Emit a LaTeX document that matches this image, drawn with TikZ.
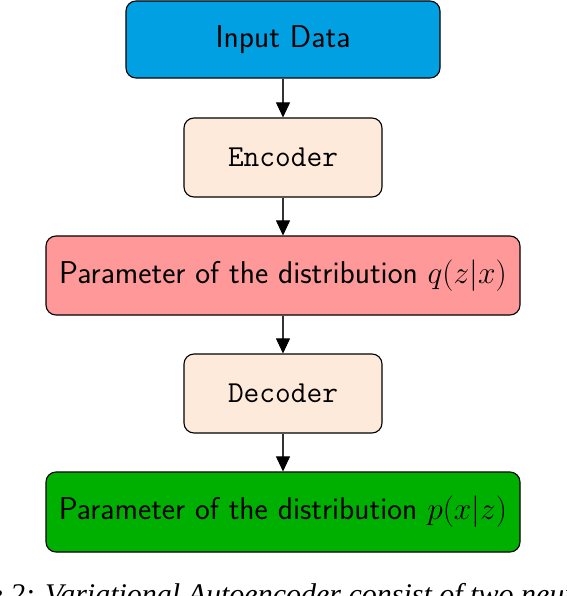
\RequirePackage{fix-cm}
\documentclass[tikz,border=0pt]{standalone}
\usepackage{fontspec}
\newfontfamily\capfont{Liberation Serif}
\usetikzlibrary{arrows.meta}
\definecolor{inblue}{RGB}{0,160,227}
\definecolor{peach}{RGB}{253,234,218}
\definecolor{pinkq}{RGB}{255,153,153}
\definecolor{greenp}{RGB}{0,176,0}
\tikzset{
  box/.style={draw=black, line width=1.1pt, rounded corners=10pt, align=center, inner sep=0pt,
    font=\fontsize{31.5}{36}\selectfont\sffamily},
  ttbox/.style={box, font=\fontsize{30.5}{36}\selectfont\ttfamily},
  conn/.style={draw=black!80, line width=1.1pt,
    -{Triangle[length=15pt, width=14pt, fill=black, color=black, line width=0.8pt]}},
}
\begin{document}
\begin{tikzpicture}[x=1pt,y=1pt]
\useasboundingbox (0,0) rectangle (566,-596);
\clip (0,0) rectangle (566,-596);
\node[box, fill=inblue, minimum width=314pt, minimum height=77pt] (in) at (283,-39.5) {Input Data};
\node[ttbox, fill=peach, minimum width=198pt, minimum height=79pt] (enc) at (283,-157.5) {Encoder};
\node[box, fill=pinkq, minimum width=474pt, minimum height=79pt] (q) at (283,-275.5) {Parameter of the distribution $q(z|x)$};
\node[ttbox, fill=peach, minimum width=198pt, minimum height=79pt] (dec) at (283,-393.5) {Decoder};
\node[box, fill=greenp, minimum width=474pt, minimum height=80pt] (p) at (283,-512) {Parameter of the distribution $p(x|z)$};
\foreach \a/\b in {in/enc, enc/q, q/dec, dec/p}{
  \draw[conn] (\a) -- (\b);
}
\node[anchor=base west, inner sep=0pt, font=\fontsize{30}{34}\selectfont\capfont\itshape] (cap) at (-78,-604) {Figure 2: Variational Autoencoder consist of two neural networks};
\end{tikzpicture}
\end{document}
